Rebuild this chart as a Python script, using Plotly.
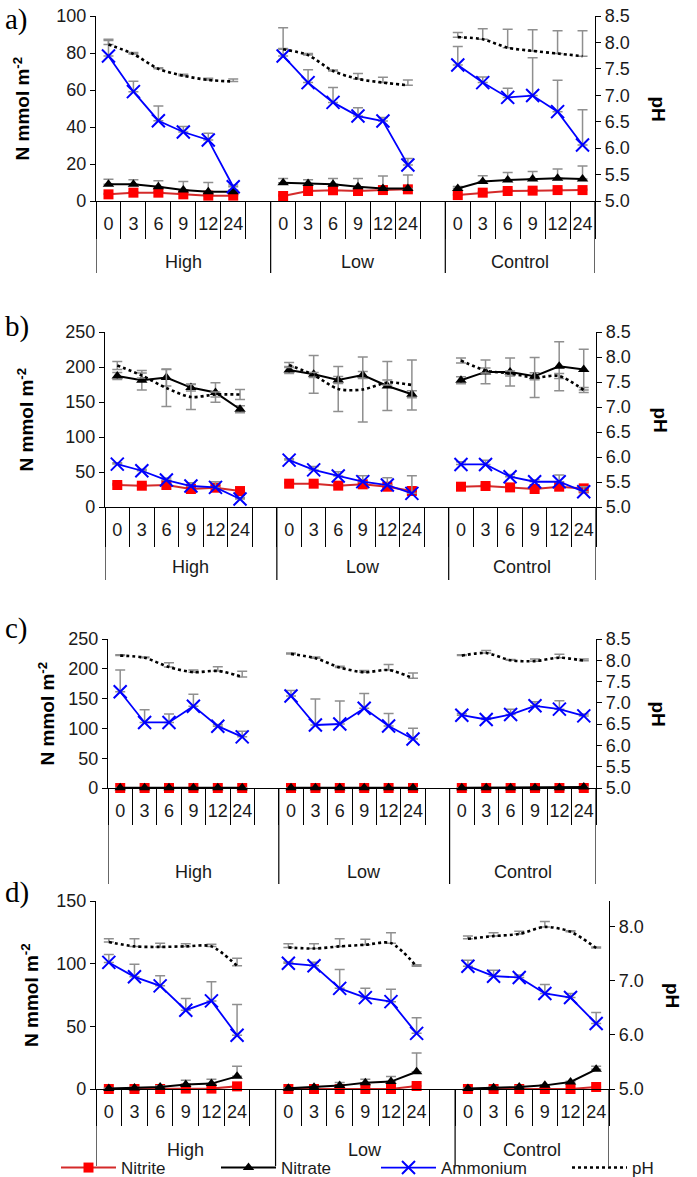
import plotly.graph_objects as go

W, H = 697, 1177

times = ["0", "3", "6", "9", "12", "24"]
groups = ["High", "Low", "Control"]
series_names = ["Nitrite", "Nitrate", "Ammonium", "pH"]

# ---------------- Panel a ----------------
a_nitrite = [3.6, 4.5, 4.5, 3.6, 2.9, 2.9, 2.7, 5.4, 5.8, 5.4, 5.9, 6.3, 3.2, 4.5, 5.4, 5.6, 5.9, 5.9]
a_nitrite_err = [0.5, 0.5, 0.5, 0.5, 0.5, 0.5, 0.5, 0.5, 0.5, 0.5, 0.5, 0.5, 0.5, 0.5, 0.5, 0.5, 0.5, 0.5]
a_nitrate = [9.0, 9.0, 7.7, 6.0, 5.0, 5.0, 9.9, 9.5, 9.0, 7.7, 6.8, 6.8, 6.8, 10.5, 11.4, 11.9, 12.3, 11.9]
a_nitrate_err = [2.7, 2.5, 3.3, 4.5, 5.0, 1.0, 2.3, 2.0, 3.2, 4.5, 6.7, 7.3, 1.0, 3.2, 4.0, 4.0, 5.0, 7.0]
a_ammonium = [78.4, 59.1, 43.4, 37.3, 33.0, 7.7, 78.4, 64.0, 53.3, 45.9, 43.2, 19.5, 73.5, 64.0, 56.0, 57.0, 48.3, 30.3]
a_ammonium_err = [8.3, 5.6, 8.0, 3.0, 3.6, 1.0, 4.0, 7.0, 8.0, 4.5, 2.0, 3.5, 10.0, 3.0, 5.0, 20.5, 17.0, 19.0]
a_ph = [7.96, 7.78, 7.50, 7.37, 7.29, 7.26, 7.87, 7.76, 7.46, 7.31, 7.24, 7.19, 8.10, 8.06, 7.90, 7.84, 7.79, 7.74]
a_ph_err = [0.10, 0.03, 0.02, 0.03, 0.03, 0.05, 0.41, 0.03, 0.02, 0.10, 0.10, 0.10, 0.09, 0.20, 0.35, 0.40, 0.43, 0.48]

# ---------------- Panel b ----------------
b_nitrite = [31.4, 30.4, 31.4, 25.7, 27.6, 22.8, 33.3, 33.3, 30.5, 32.4, 29.0, 22.9, 29.0, 30.0, 28.0, 25.7, 29.0, 26.6]
b_nitrite_err = [2, 2, 2, 3, 3, 2, 2, 2, 2, 2, 3, 3, 2, 2, 2, 2, 2, 3]
b_nitrate = [187, 181, 185, 170.6, 163.5, 139.7, 195.7, 189.5, 181.4, 188.6, 172.9, 161, 181, 193, 193, 186.8, 201, 196.3]
b_nitrate_err = [5, 14, 12, 5, 14, 5, 5, 27, 5, 5, 35, 5, 5, 17, 20, 5, 35, 29]
b_ammonium = [61.3, 51.8, 38.5, 30.0, 28.0, 11.4, 67.0, 53.0, 44.3, 36.2, 31.4, 19.5, 60.8, 60.8, 43.3, 36.1, 36.1, 21.9]
b_ammonium_err = [2, 2, 3, 4.5, 8, 2, 2, 5, 6, 8.6, 10.5, 25, 4, 6, 3, 3, 9.5, 7]
b_ph = [7.83, 7.63, 7.38, 7.20, 7.25, 7.25, 7.84, 7.64, 7.36, 7.35, 7.49, 7.44, 7.93, 7.73, 7.67, 7.59, 7.62, 7.34]
b_ph_err = [0.08, 0.05, 0.37, 0.25, 0.05, 0.10, 0.05, 0.05, 0.45, 0.65, 0.05, 0.50, 0.05, 0.05, 0.05, 0.40, 0.05, 0.05]

# ---------------- Panel c ----------------
c_nitrite = [0, 0, 0, 0, 0, 0, 0, 0, 0, 0, 0, 0, 0, 0, 0, 0, 0, 0]
c_nitrite_err = [0, 0, 0, 0, 0, 0, 0, 0, 0, 0, 0, 0, 0, 0, 0, 0, 0, 0]
c_nitrate = [0.3, 0.3, 0.3, 0.3, 0.3, 0.3, 0.3, 0.3, 0.3, 0.3, 0.3, 0.3, 0.3, 0.3, 0.3, 0.3, 0.3, 1.5]
c_nitrate_err = [0, 0, 0, 0, 0, 0, 0, 0, 0, 0, 0, 0, 0, 0, 0, 0, 0, 0]
c_ammonium = [161.4, 110, 110, 137.3, 103.7, 85.8, 154.4, 105.7, 107.4, 133.7, 104, 82.2, 122.2, 115, 123.3, 137.9, 132.3, 121]
c_ammonium_err = [36.5, 21.5, 14, 20, 3, 9.5, 9, 43.6, 38.5, 25, 21, 18, 3, 3, 9, 7, 14, 3]
c_ph = [8.11, 8.06, 7.84, 7.72, 7.75, 7.61, 8.15, 8.05, 7.83, 7.72, 7.77, 7.58, 8.11, 8.17, 8.00, 7.98, 8.06, 7.99]
c_ph_err = [0.02, 0.02, 0.10, 0.05, 0.10, 0.13, 0.02, 0.03, 0.03, 0.04, 0.13, 0.12, 0.02, 0.06, 0.02, 0.05, 0.08, 0.04]

# ---------------- Panel d ----------------
d_nitrite = [0, 0, 0, 0.3, 0.3, 2.1, 0, 0, 0, 0, 0, 2.4, 0, 0, 0, 0, 0, 1.6]
d_nitrite_err = [0, 0, 0, 0, 0, 0, 0, 0, 0, 0, 0, 0, 0, 0, 0, 0, 0, 0]
d_nitrate = [0.3, 0.8, 1.6, 3.5, 4.3, 10.1, 0.5, 1.3, 2.7, 5.0, 5.9, 13.8, 0.3, 1.0, 1.6, 2.9, 5.6, 15.7]
d_nitrate_err = [0.5, 0.5, 1, 3.5, 3.5, 8, 0.5, 0.5, 2.4, 2.7, 4, 15, 0.5, 0.5, 0.5, 0.5, 0.5, 2.4]
d_ammonium = [101, 89.5, 82.3, 62.9, 70.3, 42.9, 100.3, 98.4, 80.3, 72.9, 69.7, 44.4, 98, 90, 89, 76.2, 73, 52.2]
d_ammonium_err = [6.4, 10, 8, 9.3, 15.2, 24.5, 1, 2.7, 15, 7.4, 9.8, 12.5, 4.8, 4.8, 2, 7.2, 3.2, 8.8]
d_ph = [7.72, 7.64, 7.63, 7.64, 7.64, 7.28, 7.62, 7.60, 7.64, 7.67, 7.70, 7.27, 7.78, 7.83, 7.87, 8.00, 7.91, 7.61]
d_ph_err = [0.06, 0.14, 0.07, 0.05, 0.04, 0.14, 0.07, 0.09, 0.14, 0.10, 0.19, 0.03, 0.05, 0.06, 0.05, 0.10, 0.02, 0.02]

# ---------------- layout settings (pixels) ----------------
panels = [
    dict(tag="a)", d=dict(Nitrite=(a_nitrite, a_nitrite_err), Nitrate=(a_nitrate, a_nitrate_err),
                          Ammonium=(a_ammonium, a_ammonium_err), pH=(a_ph, a_ph_err)),
         nmax=100, ndtick=20, phmax=8.5, phdtick=0.5, sym=False,
         px=(96, 595), py=(16, 201), short=238, long=273, group_y=262,
         tag_y=19, ntitle_x=21, phtitle_x=658),
    dict(tag="b)", d=dict(Nitrite=(b_nitrite, b_nitrite_err), Nitrate=(b_nitrate, b_nitrate_err),
                          Ammonium=(b_ammonium, b_ammonium_err), pH=(b_ph, b_ph_err)),
         nmax=250, ndtick=50, phmax=8.5, phdtick=0.5, sym=True,
         px=(105, 596), py=(332, 507), short=546, long=580, group_y=567,
         tag_y=327, ntitle_x=26, phtitle_x=660),
    dict(tag="c)", d=dict(Nitrite=(c_nitrite, c_nitrite_err), Nitrate=(c_nitrate, c_nitrate_err),
                          Ammonium=(c_ammonium, c_ammonium_err), pH=(c_ph, c_ph_err)),
         nmax=250, ndtick=50, phmax=8.5, phdtick=0.5, sym=False,
         px=(108, 596), py=(639, 788), short=824, long=884, group_y=872,
         tag_y=628, ntitle_x=46, phtitle_x=658),
    dict(tag="d)", d=dict(Nitrite=(d_nitrite, d_nitrite_err), Nitrate=(d_nitrate, d_nitrate_err),
                          Ammonium=(d_ammonium, d_ammonium_err), pH=(d_ph, d_ph_err)),
         nmax=150, ndtick=50, phmax=8.48, phdtick=1.0, sym=False,
         px=(96, 609), py=(901, 1089), short=1125, long=1166, group_y=1150,
         tag_y=892, ntitle_x=30, phtitle_x=673),
]

styles = {
    "Nitrite": dict(mode="lines+markers", line=dict(color="#d42a2a", width=2),
                    marker=dict(symbol="square", size=10, color="#ff0000")),
    "Nitrate": dict(mode="lines+markers", line=dict(color="#000000", width=2),
                    marker=dict(symbol="triangle-up", size=10, color="#000000")),
    "Ammonium": dict(mode="lines+markers", line=dict(color="#0000ff", width=1.8),
                     marker=dict(symbol="x-thin", size=13, color="#0000ff",
                                 line=dict(color="#0000ff", width=2))),
    "pH": dict(mode="lines", line=dict(color="#000000", width=2.6, dash="dot", shape="spline", smoothing=0.8)),
}

FONT = "Liberation Sans, Arial, sans-serif"
TXT = "#1a1a1a"
ERRC = "#8f8f8f"
TICK_SIZE = 18

# category positions: 6 times per group, one empty slot after High and Low
xpos = []
for g in range(len(groups)):
    xpos += [g * 7 + t for t in range(len(times))]
boundaries = [k - 0.5 for k in range(21)]
group_edges = [-0.5, 6.5, 13.5, 19.5]


def gapped(vals, fill=None):
    out_x, out_y = [], []
    for g in range(len(groups)):
        out_x += xpos[g * 6:(g + 1) * 6]
        out_y += list(vals[g * 6:(g + 1) * 6])
        if g < len(groups) - 1:
            out_x.append(g * 7 + 6)
            out_y.append(fill)
    return out_x, out_y


fig = go.Figure()
layout = dict(width=W, height=H, margin=dict(l=0, r=0, t=0, b=0, autoexpand=False),
              paper_bgcolor="white", plot_bgcolor="white",
              font=dict(family=FONT, size=TICK_SIZE, color=TXT), showlegend=True)
shapes, annotations = [], []

for i, p in enumerate(panels, start=1):
    xs = "x" if i == 1 else f"x{i}"
    ys = "y" if i == 1 else f"y{i}"
    yph = f"y{i + 4}"
    fx0, fx1 = p["px"][0] / W, p["px"][1] / W
    fy0, fy1 = 1 - p["py"][1] / H, 1 - p["py"][0] / H

    for name in series_names:
        vals, errs = p["d"][name]
        gx, gy = gapped(vals)
        _, ge = gapped(errs, fill=0)
        st = styles[name]
        if p["sym"] and name in ("Nitrate", "pH"):
            err = dict(type="data", array=ge, symmetric=True, color=ERRC, thickness=1.5, width=5)
        else:
            err = dict(type="data", array=ge, arrayminus=[0] * len(ge), symmetric=False,
                       color=ERRC, thickness=1.5, width=5)
        fig.add_trace(go.Scatter(
            x=gx, y=gy, xaxis=xs, yaxis=(yph if name == "pH" else ys),
            name=name, legendgroup=name, showlegend=(i == 4),
            legend=("legend2" if name == "pH" else "legend"),
            connectgaps=False, cliponaxis=False, error_y=err, hoverinfo="skip", **st))

    xkey = "xaxis" if i == 1 else f"xaxis{i}"
    ykey = "yaxis" if i == 1 else f"yaxis{i}"
    layout[xkey] = dict(domain=[fx0, fx1], anchor=ys, range=[-0.5, 19.5],
                        tickmode="array", tickvals=xpos, ticktext=times * 3,
                        ticks="", showline=True, linecolor="black", linewidth=1.2,
                        showgrid=False, zeroline=False, ticklabelstandoff=6,
                        tickfont=dict(size=TICK_SIZE, color=TXT),
                        minor=dict(tickmode="array", tickvals=boundaries, ticks="outside",
                                   ticklen=p["short"] - p["py"][1], tickcolor="black",
                                   tickwidth=1.2, showgrid=False))
    layout[ykey] = dict(domain=[fy0, fy1], anchor=xs, range=[0, p["nmax"]], dtick=p["ndtick"],
                        showline=True, linecolor="black", linewidth=1.2, ticks="outside",
                        ticklen=5, tickcolor="black", showgrid=False, zeroline=False,
                        tickfont=dict(size=TICK_SIZE, color=TXT))
    layout[f"yaxis{i + 4}"] = dict(overlaying=ys, side="right", anchor=xs,
                                   range=[5.0, p["phmax"]], dtick=p["phdtick"], tick0=5.0,
                                   tickformat=".1f", showline=True, linecolor="black",
                                   linewidth=1.2, ticks="outside", ticklen=5, tickcolor="black",
                                   showgrid=False, zeroline=False,
                                   tickfont=dict(size=TICK_SIZE, color=TXT))

    for e in group_edges:
        shapes.append(dict(type="line", xref=xs, yref="paper", x0=e, x1=e,
                           y0=fy0, y1=1 - p["long"] / H, line=dict(color="black", width=1.2)))
    for g, gname in enumerate(groups):
        cx = (group_edges[g] + group_edges[g + 1]) / 2
        annotations.append(dict(text=gname, xref=xs, yref="paper", x=cx, y=1 - p["group_y"] / H,
                                showarrow=False, xanchor="center", yanchor="middle",
                                font=dict(size=TICK_SIZE, color=TXT)))
    annotations.append(dict(text=p["tag"], xref="paper", yref="paper", x=3 / W, y=1 - p["tag_y"] / H,
                            showarrow=False, xanchor="left", yanchor="middle",
                            font=dict(family="Liberation Serif, Times New Roman, serif", size=29, color="black")))
    annotations.append(dict(text="<b>N mmol m<sup>-2</sup></b>", xref="paper", yref="paper",
                            x=p["ntitle_x"] / W, y=(fy0 + fy1) / 2, textangle=-90,
                            showarrow=False, xanchor="center", yanchor="middle",
                            font=dict(size=19, color="black")))
    annotations.append(dict(text="<b>pH</b>", xref="paper", yref="paper",
                            x=p["phtitle_x"] / W, y=(fy0 + fy1) / 2, textangle=90,
                            showarrow=False, xanchor="center", yanchor="middle",
                            font=dict(size=19, color="black")))

layout["shapes"] = shapes
layout["annotations"] = annotations
legend_common = dict(orientation="h", y=1 - 1168 / H, xanchor="left", yanchor="middle",
                     font=dict(size=17, color=TXT), bgcolor="rgba(0,0,0,0)",
                     entrywidth=90, entrywidthmode="pixels", itemwidth=55, traceorder="normal")
layout["legend"] = dict(x=56 / W, **legend_common)
layout["legend2"] = dict(x=567 / W, **legend_common)
fig.update_layout(**layout)

fig.write_html("out.html", config={"displayModeBar": False},
               post_script="document.body.style.margin='0px';document.body.style.overflow='hidden';")
